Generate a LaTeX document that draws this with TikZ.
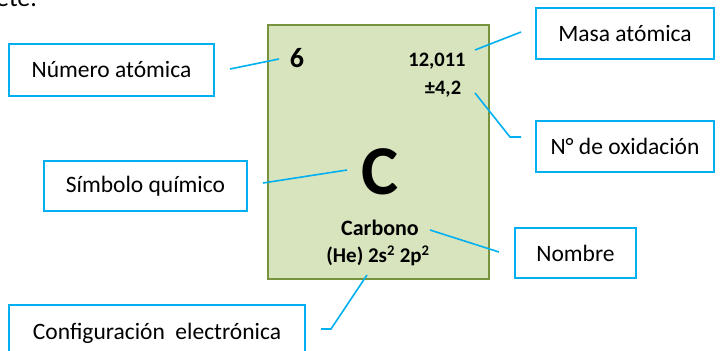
\documentclass[tikz,border=0pt]{standalone}
\usepackage{fontspec}
\setmainfont{Carlito}
\usepackage{tikz}
\usetikzlibrary{positioning}
\definecolor{boxColor}{RGB}{0,176,240}
\definecolor{cellFill}{RGB}{215,228,189}
\definecolor{cellDraw}{RGB}{119,147,60}

\begin{document}
\begin{tikzpicture}[x=1pt,y=-1pt,
  labelbox/.style={draw=boxColor,line width=2pt,fill=white,inner sep=0pt,
    font=\fontsize{23.5}{28}\selectfont},
  cellbox/.style={draw=cellDraw,line width=2.5pt,fill=cellFill,inner sep=0pt},
  celltext/.style={inner sep=0pt,font=\bfseries\fontsize{#1}{#1}\selectfont},
  link/.style={draw=boxColor,line width=1.6pt}]
\path[use as bounding box,fill=white] (0,0) rectangle (724,351);
\begin{scope}
\path[clip] (0,0) rectangle (724,351);

% text of the line above, cut by the page
\node[anchor=base west,inner sep=0pt,font=\fontsize{26}{30}\selectfont] (prevText) at (-4,6) {ete.};

% element cell
\node[cellbox,minimum width=221pt,minimum height=254pt] (cell) at (378.5,152) {};
\node[celltext=28] (atNum) at (297,58) {6};
\node[celltext=20.5] (atMass) at (437,61) {12,011};
\node[celltext=20.5] (oxState) at (443,89) {±4,2};
\node[celltext=70] (symbol) at (380,172) {C};
\node[celltext=22] (elName) at (380,228) {Carbono};
\node[celltext=21] (elConf) at (378,256) {(He) 2s\textsuperscript{2} 2p\textsuperscript{2}};

% labels
\node[labelbox,minimum width=205pt,minimum height=52pt] (numLabel) at (111.5,70) {Número atómica};
\node[labelbox,minimum width=178pt,minimum height=51pt] (massLabel) at (625,33.5) {Masa atómica};
\node[labelbox,minimum width=178pt,minimum height=51pt] (oxLabel) at (625,146.5) {N° de oxidación};
\node[labelbox,minimum width=203pt,minimum height=50pt] (symLabel) at (145.5,186) {Símbolo químico};
\node[labelbox,minimum width=121pt,minimum height=50pt] (nameLabel) at (575.5,253) {Nombre};
\node[labelbox,minimum width=296pt,minimum height=56pt] (confLabel) at (157,333) {Configuración\ \ electrónica};

% connector ends
\coordinate (numA) at (230,69);   \coordinate (numB) at (279,59);
\coordinate (massA) at (475,50);  \coordinate (massB) at (521,32);
\coordinate (oxA) at (475,93);    \coordinate (oxK) at (510,137);  \coordinate (oxB) at (521,137);
\coordinate (symA) at (263,183);  \coordinate (symB) at (347,170);
\coordinate (nameA) at (430,230); \coordinate (nameB) at (499,252);
\coordinate (confA) at (367,275); \coordinate (confK) at (331,329); \coordinate (confB) at (321,329);

\path[link] (numA) -- (numB);
\path[link] (massA) -- (massB);
\path[link] (oxA) -- (oxK) -- (oxB);
\path[link] (symA) -- (symB);
\path[link] (nameA) -- (nameB);
\path[link] (confA) -- (confK) -- (confB);
\end{scope}
\end{tikzpicture}
\end{document}
